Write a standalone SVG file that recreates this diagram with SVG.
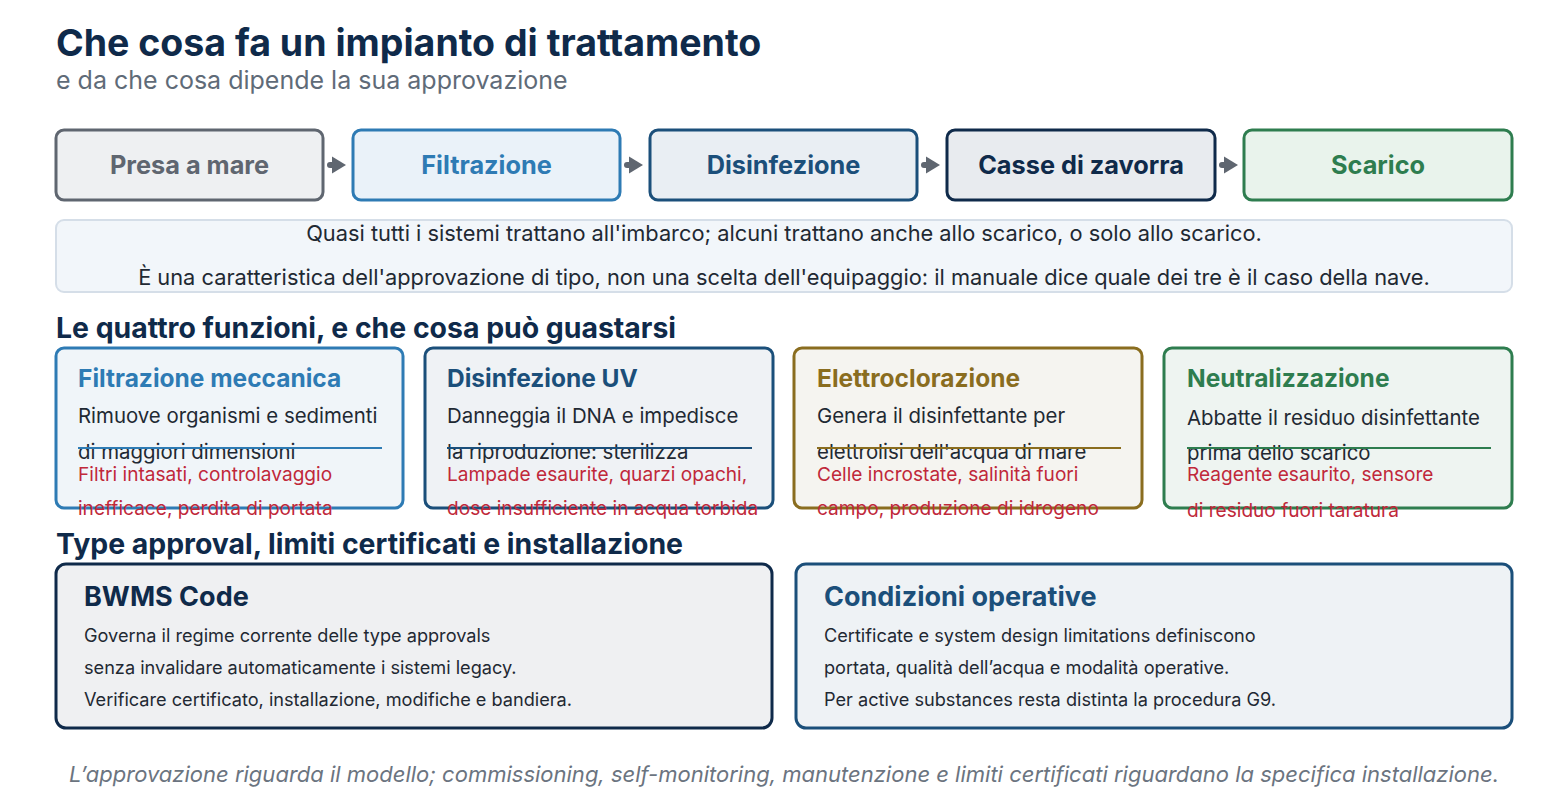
<svg xmlns="http://www.w3.org/2000/svg" width="1568" height="810" viewBox="0 0 1568 810">
<defs>
<marker id="arr" markerUnits="userSpaceOnUse" markerWidth="14" markerHeight="18" refX="5" refY="9" orient="auto" viewBox="0 0 14 18">
<path d="M0,0.5 L14,9 L0,17.5 z" fill="#5f6670"/>
</marker>
<style>
text{font-family:Inter,"Noto Sans","Liberation Sans",sans-serif;}
.h1{font-size:37.5px;font-weight:700;fill:#0f2a4a;}
.sub{font-size:25px;fill:#5f6b78;}
.h2{font-size:28.4px;font-weight:700;fill:#0f2a4a;}
.step rect{stroke-width:3;}
.step text{font-size:25.3px;font-weight:700;text-anchor:middle;}
.note{font-size:21.8px;fill:#1f2933;text-anchor:middle;}
.card rect{stroke-width:3;}
.ct{font-size:24.5px;font-weight:700;}
.cb{font-size:20.4px;fill:#1f2933;}
.cr{font-size:19.1px;fill:#c0283a;}
.bt{font-size:27px;font-weight:700;}
.bb{font-size:18.15px;fill:#1f2933;}
.foot{font-size:22px;font-style:italic;fill:#6b7480;text-anchor:middle;}
</style>
</defs>
<rect width="1568" height="810" fill="#ffffff"/>
<text class="h1" x="56" y="56">Che cosa fa un impianto di trattamento</text>
<text class="sub" x="56" y="89">e da che cosa dipende la sua approvazione</text>

<g id="step-presa" class="step">
<rect x="56" y="130" width="267" height="70" rx="8" fill="#eef0f2" stroke="#5f6670"/>
<text x="189.5" y="174" fill="#5f6670">Presa a mare</text>
</g>
<g id="step-filtrazione" class="step">
<rect x="353" y="130" width="267" height="70" rx="8" fill="#eaf2f9" stroke="#2e7bb4"/>
<text x="486.5" y="174" fill="#2e7bb4">Filtrazione</text>
</g>
<g id="step-disinfezione" class="step">
<rect x="650" y="130" width="267" height="70" rx="8" fill="#e9eef3" stroke="#1b4f7a"/>
<text x="783.5" y="174" fill="#1b4f7a">Disinfezione</text>
</g>
<g id="step-casse" class="step">
<rect x="947" y="130" width="268" height="70" rx="8" fill="#e8ebef" stroke="#0f2a4a"/>
<text x="1081" y="174" fill="#0f2a4a">Casse di zavorra</text>
</g>
<g id="step-scarico" class="step">
<rect x="1244" y="130" width="268" height="70" rx="8" fill="#e9f3ec" stroke="#2e7d4f"/>
<text x="1378" y="174" fill="#2e7d4f">Scarico</text>
</g>

<g id="connectors" stroke="#5f6670" stroke-width="6" stroke-linecap="round" fill="none">
<line x1="330" y1="165" x2="337" y2="165" marker-end="url(#arr)"/>
<line x1="627" y1="165" x2="634" y2="165" marker-end="url(#arr)"/>
<line x1="924" y1="165" x2="931" y2="165" marker-end="url(#arr)"/>
<line x1="1222" y1="165" x2="1229" y2="165" marker-end="url(#arr)"/>
</g>

<g id="note">
<rect x="56" y="220" width="1456" height="72" rx="8" fill="#f2f6fa" stroke="#d5dee8" stroke-width="2"/>
<text class="note" x="784" y="241">Quasi tutti i sistemi trattano all'imbarco; alcuni trattano anche allo scarico, o solo allo scarico.</text>
<text class="note" x="784" y="285">È una caratteristica dell'approvazione di tipo, non una scelta dell'equipaggio: il manuale dice quale dei tre è il caso della nave.</text>
</g>

<text class="h2" x="56" y="338">Le quattro funzioni, e che cosa può guastarsi</text>

<g id="card-filtrazione" class="card">
<rect x="56" y="348" width="347" height="160" rx="8" fill="#f0f5f9" stroke="#2e7bb4"/>
<text class="ct" x="78" y="387" fill="#2e7bb4">Filtrazione meccanica</text>
<text class="cb" x="78" y="423">Rimuove organismi e sedimenti</text>
<text class="cb" x="78" y="459">di maggiori dimensioni</text>
<line x1="78" y1="448" x2="382" y2="448" stroke="#2e7bb4" stroke-width="2"/>
<text class="cr" x="78" y="481">Filtri intasati, controlavaggio</text>
<text class="cr" x="78" y="515">inefficace, perdita di portata</text>
</g>
<g id="card-uv" class="card">
<rect x="425" y="348" width="348" height="160" rx="8" fill="#eff2f5" stroke="#1b4f7a"/>
<text class="ct" x="447" y="387" fill="#1b4f7a">Disinfezione UV</text>
<text class="cb" x="447" y="423">Danneggia il DNA e impedisce</text>
<text class="cb" x="447" y="459">la riproduzione: sterilizza</text>
<line x1="447" y1="448" x2="752" y2="448" stroke="#1b4f7a" stroke-width="2"/>
<text class="cr" x="447" y="481">Lampade esaurite, quarzi opachi,</text>
<text class="cr" x="447" y="515">dose insufficiente in acqua torbida</text>
</g>
<g id="card-elettro" class="card">
<rect x="794" y="348" width="348" height="160" rx="8" fill="#f5f4f0" stroke="#8a6d1f"/>
<text class="ct" x="817" y="387" fill="#8a6d1f">Elettroclorazione</text>
<text class="cb" x="817" y="423">Genera il disinfettante per</text>
<text class="cb" x="817" y="459">elettrolisi dell'acqua di mare</text>
<line x1="817" y1="448" x2="1121" y2="448" stroke="#8a6d1f" stroke-width="2"/>
<text class="cr" x="817" y="481">Celle incrostate, salinità fuori</text>
<text class="cr" x="817" y="515">campo, produzione di idrogeno</text>
</g>
<g id="card-neutral" class="card">
<rect x="1164" y="348" width="348" height="160" rx="8" fill="#eef4f1" stroke="#2e7d4f"/>
<text class="ct" x="1187" y="387" fill="#2e7d4f">Neutralizzazione</text>
<text class="cb" x="1187" y="425">Abbatte il residuo disinfettante</text>
<text class="cb" x="1187" y="460">prima dello scarico</text>
<line x1="1187" y1="448" x2="1491" y2="448" stroke="#2e7d4f" stroke-width="2"/>
<text class="cr" x="1187" y="481">Reagente esaurito, sensore</text>
<text class="cr" x="1187" y="517">di residuo fuori taratura</text>
</g>

<text class="h2" x="56" y="554">Type approval, limiti certificati e installazione</text>

<g id="card-bwms" class="card">
<rect x="56" y="564" width="716" height="164" rx="10" fill="#eff0f2" stroke="#0f2a4a"/>
<text class="bt" x="84" y="606" fill="#0f2a4a">BWMS Code</text>
<text class="bb" x="84" y="642">Governa il regime corrente delle type approvals</text>
<text class="bb" x="84" y="674">senza invalidare automaticamente i sistemi legacy.</text>
<text class="bb" x="84" y="706">Verificare certificato, installazione, modifiche e bandiera.</text>
</g>
<g id="card-condizioni" class="card">
<rect x="796" y="564" width="716" height="164" rx="10" fill="#eef2f5" stroke="#1b4f7a"/>
<text class="bt" x="824" y="606" fill="#1b4f7a">Condizioni operative</text>
<text class="bb" x="824" y="642">Certificate e system design limitations definiscono</text>
<text class="bb" x="824" y="674">portata, qualità dell’acqua e modalità operative.</text>
<text class="bb" x="824" y="706">Per active substances resta distinta la procedura G9.</text>
</g>

<text class="foot" x="784" y="782">L’approvazione riguarda il modello; commissioning, self-monitoring, manutenzione e limiti certificati riguardano la specifica installazione.</text>
</svg>
